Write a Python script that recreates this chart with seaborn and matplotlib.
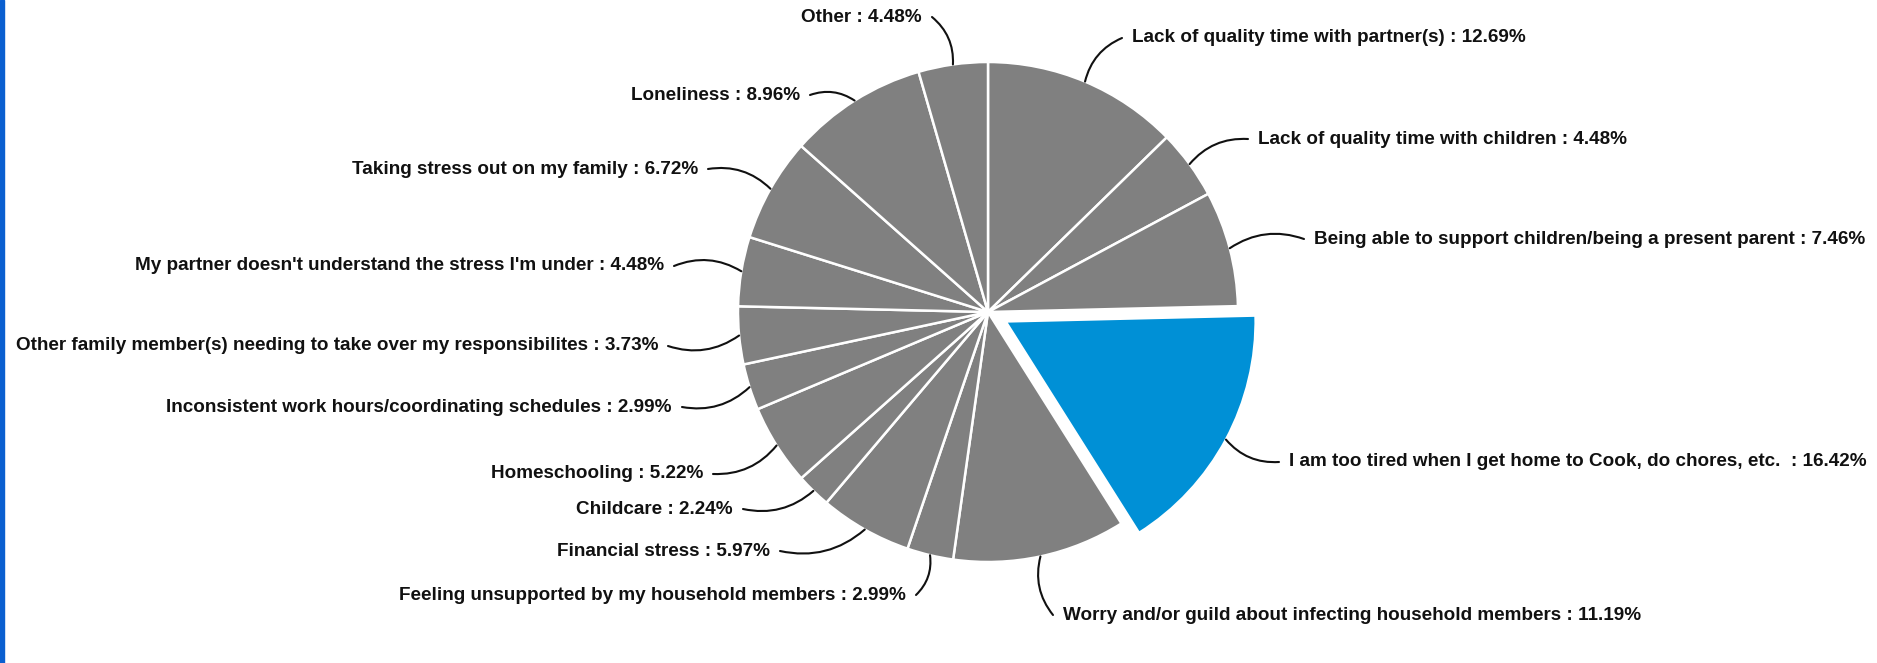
import numpy as np
import matplotlib
matplotlib.use("Agg")
import matplotlib.pyplot as plt
import matplotlib.patches as mpatches
import seaborn as sns

categories = [
    "Lack of quality time with partner(s)",
    "Lack of quality time with children",
    "Being able to support children/being a present parent",
    "I am too tired when I get home to Cook, do chores, etc. ",
    "Worry and/or guild about infecting household members",
    "Feeling unsupported by my household members",
    "Financial stress",
    "Childcare",
    "Homeschooling",
    "Inconsistent work hours/coordinating schedules",
    "Other family member(s) needing to take over my responsibilites",
    "My partner doesn't understand the stress I'm under",
    "Taking stress out on my family",
    "Loneliness",
    "Other",
]
values = [12.69, 4.48, 7.46, 16.42, 11.19, 2.99, 5.97, 2.24, 5.22, 2.99, 3.73, 4.48, 6.72, 8.96, 4.48]
highlight = "I am too tired when I get home to Cook, do chores, etc. "

sns.set_theme(style="white")
plt.rcParams["font.family"] = ["Liberation Sans", "DejaVu Sans"]

W, H = 1877, 663
CX, CY, R = 988, 312, 250  # pixel layout of the pie

fig = plt.figure(figsize=(W / 100, H / 100), dpi=100)
ax = fig.add_axes([0, 0, 1, 1])

gray = "#808080"
blue = "#0090d6"
colors = [blue if c == highlight else gray for c in categories]
explode = [0.08 if c == highlight else 0.0 for c in categories]

wedges, _ = ax.pie(values, colors=colors, explode=explode, startangle=90,
                   counterclock=False, radius=1.0,
                   wedgeprops=dict(edgecolor="white", linewidth=1.8))

ax.set_xlim(-CX / R, (W - CX) / R)
ax.set_ylim(-(H - CY) / R, CY / R)
ax.set_aspect("equal")
ax.axis("off")

# label anchor positions in pixels (x, y, ha) -- layout only
label_pos = [
    (1132, 38, "left"), (1258, 139, "left"), (1314, 239, "left"),
    (1289, 462, "left"), (1063, 615, "left"), (906, 595, "right"),
    (770, 551, "right"), (733, 509, "right"), (703, 474, "right"),
    (672, 407, "right"), (658, 346, "right"), (664, 266, "right"),
    (698, 169, "right"), (800, 95, "right"), (922, 17, "right"),
]

def px2d(px, py):
    return (px - CX) / R, (CY - py) / R

for w, cat, val, (px, py, ha) in zip(wedges, categories, values, label_pos):
    tx, ty = px2d(px, py)
    txt = f"{cat} : {val:.2f}%"
    ax.text(tx, ty, txt, ha=ha, va="center", fontsize=13.6, fontweight="bold",
            color="#111111")
    mid = np.deg2rad((w.theta1 + w.theta2) / 2)
    cx0, cy0 = w.center
    ex, ey = cx0 + w.r * np.cos(mid), cy0 + w.r * np.sin(mid)
    gap = 10 / R
    sx = tx - gap if ha == "left" else tx + gap
    rad = -0.25 if ha == "left" else 0.25
    if ey < ty:
        rad = -rad
    ax.annotate("", xy=(ex, ey), xytext=(sx, ty),
                arrowprops=dict(arrowstyle="-", color="#111111", lw=1.5,
                                shrinkA=0, shrinkB=0,
                                connectionstyle=f"arc3,rad={rad}"))

fig.patches.append(mpatches.Rectangle((0, 0), 4 / W, 1, transform=fig.transFigure,
                                      color="#0a5fd0", zorder=10))

fig.savefig("out.png", dpi=100)
